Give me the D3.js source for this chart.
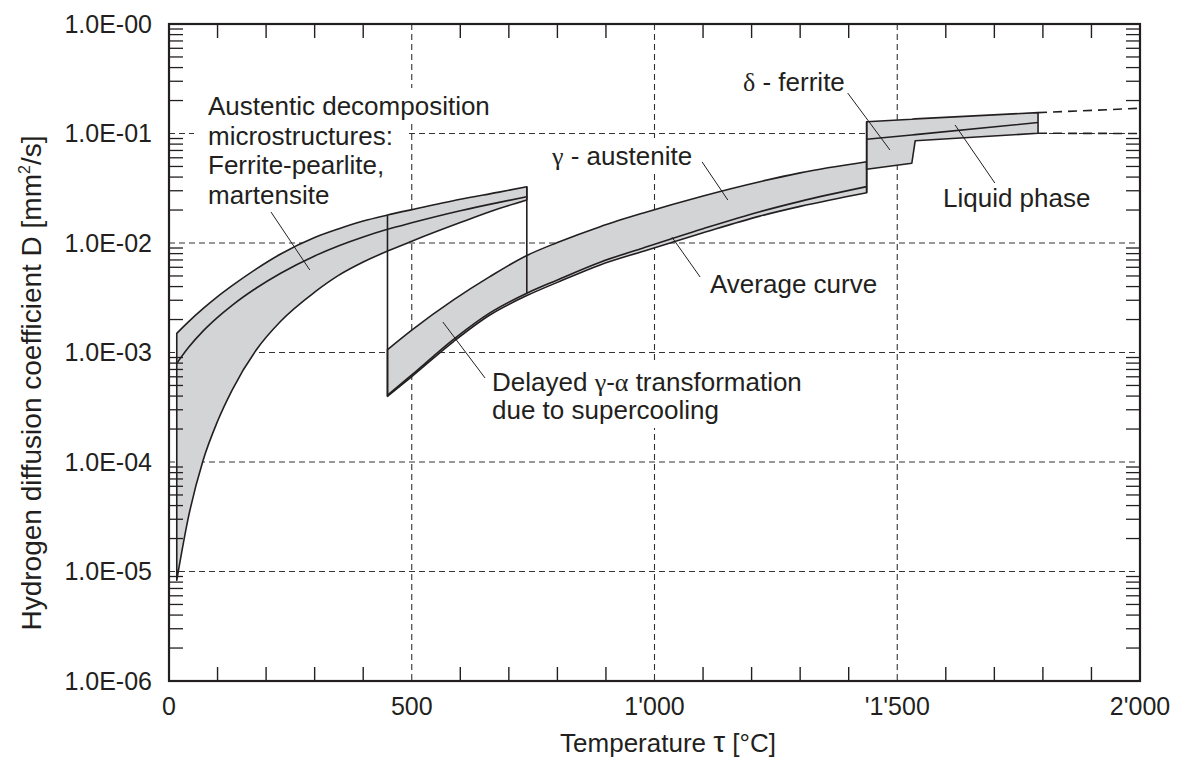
<!DOCTYPE html>
<html>
<head>
<meta charset="utf-8">
<script src="https://cdn.jsdelivr.net/npm/d3@7"></script>
<style>
  body { margin: 0; background: #fff; }
  svg { display: block; }
  text { font-family: "Liberation Sans", Arial, Helvetica, sans-serif; fill: #231f20; }
</style>
</head>
<body>
<svg id="chart" width="1184" height="762"></svg>
<script>
// Temperature grid (°C) and diffusion coefficients D (mm²/s) per phase band

// Austenitic decomposition microstructures (ferrite-pearlite, martensite)
const austTemps = [16, 40, 70, 100, 130, 180, 230, 300, 350, 400, 450, 500, 600, 680, 737];
const austUpper = [1.496e-3, 1.905e-3, 2.512e-3, 3.236e-3, 4.074e-3, 5.808e-3, 7.943e-3, 1.122e-2, 1.349e-2, 1.585e-2, 1.799e-2, 2.018e-2, 2.512e-2, 2.917e-2, 3.266e-2];
const austAvg   = [7.96e-4, 1.109e-3, 1.567e-3, 2.094e-3, 2.698e-3, 3.882e-3, 5.297e-3, 7.621e-3, 9.441e-3, 1.135e-2, 1.334e-2, 1.531e-2, 1.972e-2, 2.350e-2, 2.642e-2];
const austLower = [8.32e-6, 3.133e-5, 1.028e-4, 2.355e-4, 4.539e-4, 1.059e-3, 1.928e-3, 3.556e-3, 5.082e-3, 6.699e-3, 8.433e-3, 1.038e-2, 1.535e-2, 2.061e-2, 2.477e-2];

// gamma-austenite (incl. delayed gamma-alpha transformation due to supercooling)
const gammaTemps = [450, 500, 586, 660, 737, 800, 888, 977, 1100, 1217, 1300, 1437];
const gammaUpper = [1.06e-3, 1.60e-3, 3.02e-3, 4.90e-3, 7.69e-3, 1.01e-2, 1.41e-2, 1.88e-2, 2.69e-2, 3.63e-2, 4.37e-2, 5.52e-2];
const gammaAvg   = [4.07e-4, 6.24e-4, 1.32e-3, 2.29e-3, 3.48e-3, 4.60e-3, 6.68e-3, 9.02e-3, 1.35e-2, 1.93e-2, 2.40e-2, 3.27e-2];
const gammaLower = [3.98e-4, 6.03e-4, 1.26e-3, 2.19e-3, 3.31e-3, 4.37e-3, 6.31e-3, 8.41e-3, 1.24e-2, 1.76e-2, 2.16e-2, 2.88e-2];

// delta-ferrite and liquid phase
const deltaTemps = [1437, 1530, 1537, 1790];
const deltaUpper = [0.128, 0.135, 0.136, 0.155];
const deltaAvg   = [0.0885, 0.097, 0.0977, 0.126];
const deltaLower = [0.0471, 0.0535, 0.0859, 0.1005];

// extrapolation of the liquid band
const extTemps = [1790, 2000];
const extUpper = [0.155, 0.17];
const extLower = [0.1005, 0.1];

// axes
const xTickValues = [0, 500, 1000, 1500, 2000];
const xTickLabels = ["0", "500", "1'000", "'1'500", "2'000"];
const yTickValues = [1, 1e-1, 1e-2, 1e-3, 1e-4, 1e-5, 1e-6];
const yTickLabels = ["1.0E-00", "1.0E-01", "1.0E-02", "1.0E-03", "1.0E-04", "1.0E-05", "1.0E-06"];

const ink = "#231f20";
const bandFill = "#d3d4d6";

const svg = d3.select("#chart");
const x = d3.scaleLinear().domain([0, 2000]).range([169, 1140]);
const y = d3.scaleLog().domain([1e-6, 1]).range([681, 24]);
const [x0, x1] = x.range();
const [yb, yt] = y.range();

const rows = (t, ...cols) => t.map((d, i) => ({ t: d, v: cols.map(c => c[i]) }));

// ---- grid ----
const grid = svg.append("g").attr("stroke", "#333").attr("stroke-width", 1.1).attr("stroke-dasharray", "6,4").attr("fill", "none");
grid.selectAll("line.gx").data(xTickValues.filter(v => v > 0 && v < 2000)).join("line")
  .attr("x1", d => x(d)).attr("x2", d => x(d)).attr("y1", yt).attr("y2", yb);
grid.selectAll("line.gy").data(yTickValues.filter(v => v < 1 && v > 1e-6)).join("line")
  .attr("x1", x0).attr("x2", x1).attr("y1", d => y(d)).attr("y2", d => y(d));

// ---- annotations (text with white backing) ----
const greek = /[γαδτ]/;
function richText(sel, str) {
  let buf = "";
  const flush = () => { if (buf) { sel.append("tspan").text(buf); buf = ""; } };
  for (const ch of str) {
    if (greek.test(ch)) { flush(); sel.append("tspan").style("font-family", '"Liberation Serif","DejaVu Serif",serif').text(ch); }
    else buf += ch;
  }
  flush();
}

const annotations = [
  { lines: ["Austentic decomposition", "microstructures:", "Ferrite-pearlite,", "martensite"], x: 208, y: 115, lh: 29.5,
    ptr: [[210, 1.92e-2], [290, 5.67e-3]] },
  { lines: ["Delayed γ-α transformation", "due to supercooling"], x: 492, y: 391, lh: 28,
    ptr: [[651, 5.85e-4], [564, 1.90e-3]] },
  { lines: ["γ - austenite"], x: 552, y: 165, lh: 0, ptr: [[1098, 0.055], [1151, 0.0247]] },
  { lines: ["Average curve"], x: 710, y: 293, lh: 0, ptr: [[1094, 4.89e-3], [1036, 1.13e-2]] },
  { lines: ["δ - ferrite"], x: 743, y: 91, lh: 0, ptr: [[1398, 0.234], [1485, 0.0707]] },
  { lines: ["Liquid phase"], x: 943, y: 207, lh: 0, ptr: [[1701, 0.0353], [1619, 0.1197]] }
];

const backLayer = svg.append("g");
const bandLayer = svg.append("g");
const textLayer = svg.append("g");

annotations.forEach(a => {
  a.lines.forEach((ln, i) => {
    const t = textLayer.append("text").attr("x", a.x).attr("y", a.y + i * a.lh).attr("font-size", 26);
    richText(t, ln);
    const bb = t.node().getBBox();
    backLayer.append("rect").attr("x", bb.x - 14).attr("y", bb.y - 3).attr("width", bb.width + 28).attr("height", bb.height + 6).attr("fill", "#fff");
  });
  textLayer.append("line")
    .attr("x1", x(a.ptr[0][0])).attr("y1", y(a.ptr[0][1]))
    .attr("x2", x(a.ptr[1][0])).attr("y2", y(a.ptr[1][1]))
    .attr("stroke", ink).attr("stroke-width", 1);
});

// ---- bands ----
function band(data, curve) {
  const area = d3.area().x(d => x(d.t)).y0(d => y(d.v[2])).y1(d => y(d.v[0])).curve(curve);
  bandLayer.append("path").attr("d", area(data)).attr("fill", bandFill).attr("stroke", ink).attr("stroke-width", 1.6).attr("stroke-linejoin", "round");
  const mid = d3.line().x(d => x(d.t)).y(d => y(d.v[1])).curve(curve);
  bandLayer.append("path").attr("d", mid(data)).attr("fill", "none").attr("stroke", ink).attr("stroke-width", 1.6);
}
const aust = rows(austTemps, austUpper, austAvg, austLower);
const gamma = rows(gammaTemps, gammaUpper, gammaAvg, gammaLower);
const delta = rows(deltaTemps, deltaUpper, deltaAvg, deltaLower);
band(aust, d3.curveMonotoneX);
band(gamma, d3.curveMonotoneX);
band(delta, d3.curveLinear);

// vertical jumps between phases
const last = arr => arr[arr.length - 1];
const at = (temps, vals, t) => vals[temps.indexOf(t)];
const jumps = [
  [450, at(austTemps, austUpper, 450), gammaLower[0]],
  [last(austTemps), last(austUpper), at(gammaTemps, gammaAvg, last(austTemps))],
  [deltaTemps[0], deltaUpper[0], last(gammaLower)]
];
bandLayer.selectAll("line.jump").data(jumps).join("line")
  .attr("x1", d => x(d[0])).attr("x2", d => x(d[0]))
  .attr("y1", d => y(d[1])).attr("y2", d => y(d[2]))
  .attr("stroke", ink).attr("stroke-width", 1.6);

// dashed extrapolation
[extUpper, extLower].forEach(vals => {
  bandLayer.append("path")
    .attr("d", d3.line().x((d, i) => x(extTemps[i])).y(d => y(d))(vals))
    .attr("fill", "none").attr("stroke", ink).attr("stroke-width", 1.6).attr("stroke-dasharray", "9,6");
});

// ---- frame and ticks ----
const frame = svg.append("g").attr("stroke", ink).attr("fill", "none");
frame.append("rect").attr("x", x0).attr("y", yt).attr("width", x1 - x0).attr("height", yb - yt).attr("stroke-width", 2.2);

const xMinor = d3.range(100, 2000, 100).filter(v => v % 500 !== 0);
frame.selectAll("line.xb").data(xMinor).join("line")
  .attr("x1", d => x(d)).attr("x2", d => x(d)).attr("y1", yb).attr("y2", yb - 14).attr("stroke-width", 1.4);
frame.selectAll("line.xt").data(xMinor).join("line")
  .attr("x1", d => x(d)).attr("x2", d => x(d)).attr("y1", yt).attr("y2", yt + 14).attr("stroke-width", 1.4);

const yMinor = [];
for (let k = -6; k < 0; k++) for (let m = 2; m <= 9; m++) yMinor.push(m * Math.pow(10, k));
frame.selectAll("line.yl").data(yMinor).join("line")
  .attr("x1", x0).attr("x2", x0 + 14).attr("y1", d => y(d)).attr("y2", d => y(d)).attr("stroke-width", 1.3);
frame.selectAll("line.yr").data(yMinor).join("line")
  .attr("x1", x1).attr("x2", x1 - 14).attr("y1", d => y(d)).attr("y2", d => y(d)).attr("stroke-width", 1.3);

// tick labels
svg.append("g").selectAll("text").data(xTickValues).join("text")
  .attr("x", d => x(d)).attr("y", 715).attr("text-anchor", "middle").attr("font-size", 25)
  .text((d, i) => xTickLabels[i]);
svg.append("g").selectAll("text").data(yTickValues).join("text")
  .attr("x", 152).attr("y", d => y(d)).attr("dy", "0.35em").attr("text-anchor", "end").attr("font-size", 25)
  .text((d, i) => yTickLabels[i]);

// axis titles
const xt = svg.append("text").attr("x", 668).attr("y", 752).attr("text-anchor", "middle").attr("font-size", 26);
xt.append("tspan").text("Temperature ");
xt.append("tspan").attr("font-size", 30).text("τ");
xt.append("tspan").text(" [°C]");

const yt2 = svg.append("text").attr("transform", "translate(41,383) rotate(-90)").attr("text-anchor", "middle").attr("font-size", 28);
yt2.append("tspan").text("Hydrogen diffusion coefficient D [mm");
yt2.append("tspan").attr("font-size", 16).attr("dy", -11).text("2");
yt2.append("tspan").attr("dy", 11).text("/s]");
</script>
</body>
</html>
